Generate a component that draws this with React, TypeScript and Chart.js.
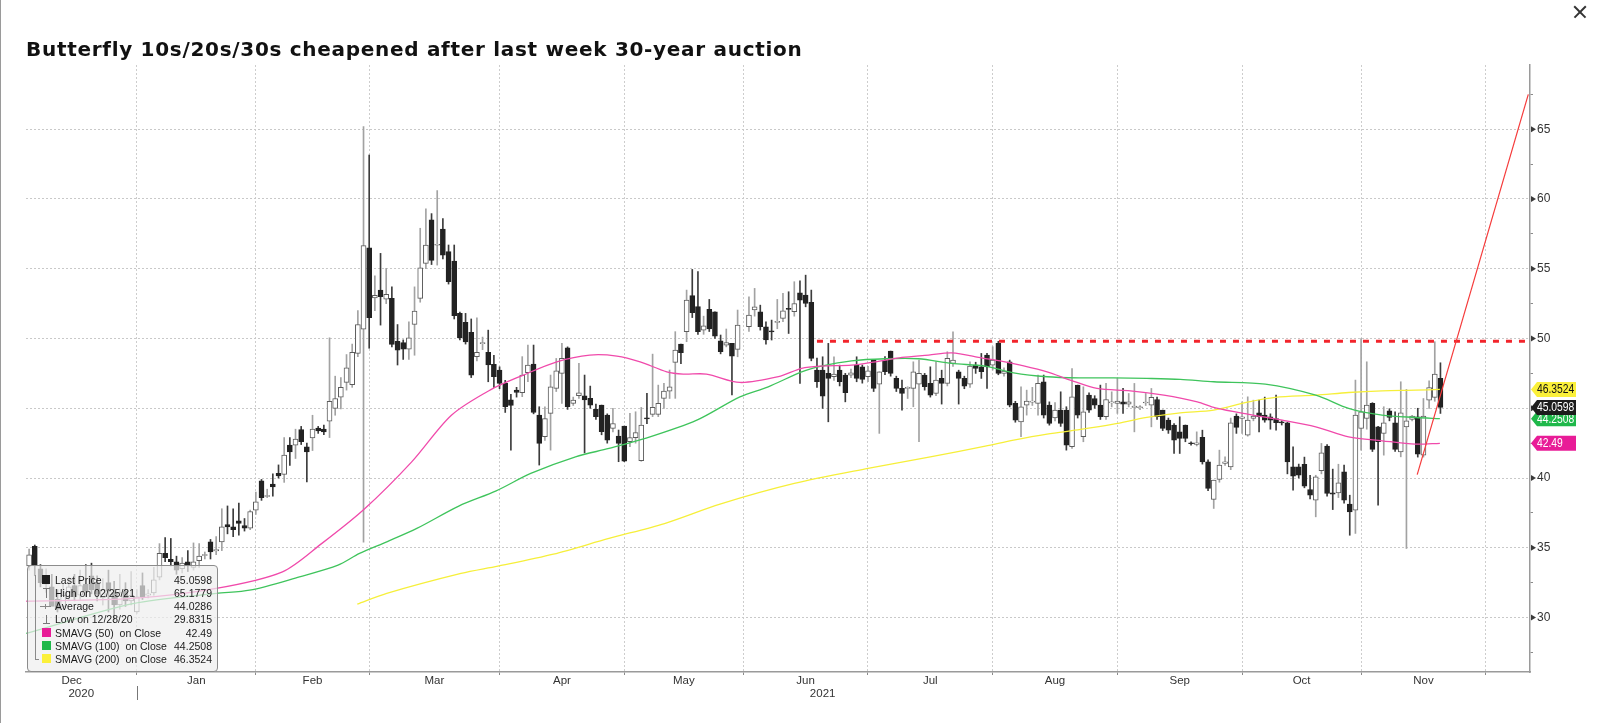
import React, { useEffect, useRef } from "react";
import { Chart, registerables } from "chart.js";

Chart.register(...registerables);

// ---------- DATA ----------
// Candles: [open, high, low, close]; x = weekday index counted from 1 Dec 2020 (null = no trading)
type Candle = [number, number, number, number] | null;

const decCandles: Candle[] = [
  [33.7, 34.9, 33.4, 34.5], [35.1, 35.2, 33.0, 33.7], [33.5, 33.8, 32.2, 32.5], [32.4, 33.5, 31.8, 33.0],
  [32.2, 33.1, 30.9, 30.8], [31.3, 32.0, 30.4, 30.6], [30.8, 32.4, 30.6, 31.6], [31.5, 32.9, 31.2, 32.2],
  [32.3, 33.1, 31.2, 31.5], [31.6, 33.4, 31.3, 32.3], [32.4, 33.8, 31.5, 31.9], [33.0, 33.9, 31.7, 32.0],
  [32.5, 33.0, 31.2, 31.7], [31.4, 32.8, 30.9, 32.0], [32.5, 33.4, 30.4, 31.9], [31.8, 32.6, 29.83, 30.9],
  [30.9, 33.1, 30.6, 31.8], [31.9, 32.5, 30.8, 31.2], [31.2, 33.3, 30.9, 31.6],
];
const janCandles: Candle[] = [
  [30.41, 32.0, 30.3, 31.48], [32.3, 33.2, 31.3, 31.5], [31.6, 32.0, 31.4, 31.7], [31.77, 33.6, 31.6, 32.7],
  [32.9, 35.3, 32.7, 34.6], [34.6, 35.74, 34.0, 34.3], [34.17, 35.67, 33.7, 34.0], [34.0, 34.4, 33.1, 33.4],
  [33.5, 34.3, 33.2, 33.9], [34.0, 34.8, 33.3, 33.7], [33.6, 35.35, 33.4, 34.0], [34.07, 35.3, 33.6, 34.4],
  [34.45, 34.7, 34.2, 34.49], [35.43, 35.6, 34.2, 34.71], [34.78, 35.8, 34.5, 34.88], [35.43, 37.8, 34.8, 36.5],
  [36.67, 38.0, 36.0, 36.5], [36.5, 37.8, 35.8, 36.3], [36.93, 38.2, 35.9, 36.74], [36.6, 37.1, 36.2, 36.4],
  [36.4, 37.7, 36.3, 37.6],
];
const febCandles: Candle[] = [
  [37.7, 39.0, 37.4, 38.3], [39.8, 39.9, 38.4, 38.6], [38.68, 39.2, 38.6, 38.72], [39.56, 40.3, 38.7, 39.37],
  [40.33, 40.94, 40.0, 40.16], [40.26, 42.9, 39.69, 41.64], [42.36, 42.9, 40.9, 41.88], [42.36, 43.5, 41.4, 42.79],
  [43.48, 43.7, 42.4, 42.6], [42.24, 42.5, 39.73, 41.88], [42.88, 44.5, 41.97, 43.5], [43.58, 43.7, 43.2, 43.38],
  [43.5, 43.8, 43.1, 43.3], [44.08, 50.05, 42.9, 45.5], [44.99, 47.3, 44.5, 45.7], [45.8, 47.2, 44.95, 46.5],
  [46.85, 48.85, 46.3, 47.9], [46.7, 49.6, 46.5, 49.0], [48.93, 52.0, 48.7, 51.0], [50.67, 65.18, 35.4, 56.65],
];
const marCandles: Candle[] = [
  [56.5, 63.15, 49.3, 51.5], [52.9, 54.5, 52.0, 53.1], [53.47, 56.1, 50.96, 52.99], [52.82, 55.03, 52.5, 53.16],
  [52.87, 53.7, 49.4, 49.58], [49.8, 51.0, 48.1, 49.17], [49.7, 49.9, 48.5, 49.24], [49.24, 51.2, 48.5, 50.05],
  [51.0, 53.7, 48.8, 51.96], [52.87, 57.9, 52.6, 55.07], [55.38, 59.3, 55.0, 56.7], [58.5, 58.95, 55.3, 55.6],
  [56.68, 60.6, 55.26, 56.72], [57.84, 58.6, 55.7, 55.98], [56.22, 56.7, 53.9, 54.07], [55.55, 56.7, 51.4, 51.63],
  [51.8, 51.9, 49.9, 50.05], [51.15, 51.8, 49.6, 49.76], [50.44, 51.4, 47.2, 47.38], [48.7, 51.48, 48.4, 49.0],
  [49.63, 50.1, 49.2, 49.67], [49.0, 50.6, 46.9, 48.1], [48.14, 48.8, 46.5, 47.26],
];
const aprCandles: Candle[] = [
  [47.74, 47.97, 46.4, 46.78], [46.78, 47.0, 44.7, 45.11], [45.6, 46.0, 42.0, 45.2], [46.3, 46.5, 45.8, 46.14],
  [46.11, 48.7, 45.83, 47.38], [47.55, 49.53, 46.9, 48.1], [48.17, 49.53, 44.6, 44.7], [44.51, 45.11, 40.93, 42.48],
  [42.96, 45.11, 42.7, 44.27], [44.63, 47.38, 42.0, 46.54], [46.42, 48.57, 46.2, 47.69], [47.5, 49.65, 45.35, 48.57],
  [49.34, 49.4, 44.92, 45.11], [45.35, 45.8, 45.2, 45.59], [45.9, 48.22, 45.7, 46.11], [45.9, 47.38, 41.8, 45.59],
  [45.71, 46.59, 45.0, 45.23], [44.92, 45.3, 44.2, 44.39], [45.23, 45.23, 43.1, 43.32], [44.51, 44.6, 42.5, 42.72],
  [43.56, 44.99, 43.3, 43.91], [43.01, 43.44, 41.17, 42.48],
];
const mayCandles: Candle[] = [
  [43.72, 43.72, 41.17, 41.21], [42.6, 44.63, 42.24, 42.9], [42.89, 44.75, 42.5, 43.25], [41.24, 45.06, 41.2, 43.79],
  [44.32, 46.07, 43.9, 44.23], [44.56, 48.88, 44.4, 45.06], [44.56, 46.66, 44.4, 45.35], [45.71, 46.78, 44.99, 46.23],
  [46.23, 47.74, 45.7, 46.54], [48.29, 50.49, 45.71, 49.17], [49.6, 49.6, 48.2, 48.98], [50.49, 53.47, 49.77, 52.76],
  [53.07, 54.95, 51.5, 51.85], [52.28, 54.79, 50.3, 50.49], [50.6, 51.6, 50.3, 50.9], [52.09, 52.8, 50.5, 50.68],
  [51.92, 51.92, 50.0, 50.17], [49.84, 50.25, 48.9, 49.05], [49.53, 50.68, 49.4, 49.7], [49.65, 49.65, 45.95, 48.74],
  [49.22, 52.04, 48.69, 50.96],
];
const junCandles: Candle[] = [
  null, [50.84, 52.99, 50.5, 51.68], [52.04, 53.59, 51.6, 52.27], [51.92, 52.39, 50.6, 50.84],
  [50.84, 51.2, 49.6, 49.89], [50.53, 51.32, 49.89, 50.48], [51.15, 52.8, 50.7, 51.2], [51.44, 53.23, 51.2, 51.99],
  [52.16, 53.35, 50.36, 52.08], [51.92, 54.07, 51.6, 52.51], [53.28, 54.14, 46.78, 52.75], [53.11, 54.54, 52.27, 52.51],
  [52.59, 53.47, 48.4, 48.57], [47.73, 48.6, 46.5, 46.9], [47.73, 48.69, 44.99, 45.87], [47.5, 49.65, 44.03, 47.14],
  [47.26, 48.69, 47.0, 47.45], [47.73, 48.09, 46.6, 46.9], [47.38, 47.5, 45.46, 46.11], [47.38, 47.8, 47.2, 47.54],
  [48.09, 48.69, 46.9, 47.14], [47.97, 48.1, 46.8, 47.07],
];
const julCandles: Candle[] = [
  [47.26, 48.0, 46.9, 47.69], [48.45, 48.45, 46.2, 46.42], [46.73, 47.62, 43.2, 47.62], [48.45, 48.7, 47.4, 47.62],
  [49.1, 49.1, 47.3, 47.5], [47.14, 47.3, 46.2, 46.42], [46.42, 47.02, 44.87, 46.06], [46.42, 46.54, 45.7, 46.45],
  [46.42, 48.33, 45.11, 47.62], [46.73, 48.45, 42.6, 47.5], [47.38, 47.5, 46.3, 46.54], [46.78, 47.97, 45.8, 45.94],
  [46.06, 48.33, 45.9, 47.02], [47.14, 47.73, 45.3, 46.78], [46.78, 49.05, 46.6, 48.57], [48.21, 50.48, 48.0, 48.45],
  [47.62, 47.73, 45.3, 47.14], [47.14, 47.3, 46.4, 46.59], [46.73, 48.33, 46.5, 48.02], [48.09, 48.3, 47.5, 47.85],
  [47.97, 48.93, 47.14, 47.62], [48.81, 48.93, 46.42, 47.97],
];
const augCandles: Candle[] = [
  [48.09, 49.41, 47.74, 48.45], [49.65, 49.8, 47.4, 47.5], [47.5, 47.9, 47.3, 47.66], [48.33, 48.45, 45.1, 45.23],
  [45.35, 45.5, 44.0, 44.15], [44.03, 46.54, 42.96, 45.11], [45.23, 46.3, 44.51, 45.51], [45.44, 46.5, 45.2, 45.48],
  [45.35, 47.38, 44.51, 46.78], [46.9, 47.38, 44.3, 44.51], [45.23, 45.46, 43.79, 43.91], [44.3, 45.4, 44.1, 44.87],
  [44.87, 46.18, 43.7, 43.91], [44.87, 45.11, 42.0, 42.36], [42.24, 47.85, 42.12, 45.82], [46.66, 46.66, 44.3, 44.51],
  [42.96, 46.54, 42.6, 44.75], [45.94, 46.1, 44.7, 44.87], [45.7, 45.9, 45.0, 45.23], [45.23, 46.66, 44.2, 44.39],
  [44.39, 46.78, 44.2, 45.63], [45.39, 46.18, 45.1, 45.42],
];
const sepCandles: Candle[] = [
  [45.35, 47.14, 44.63, 45.51], [45.46, 46.42, 44.63, 45.3], [45.3, 46.06, 45.1, 45.46], [45.06, 46.78, 43.31, 45.15],
  [45.04, 45.2, 44.9, 45.06], [45.38, 46.06, 45.2, 45.4], [45.23, 46.42, 43.67, 45.78], [45.63, 45.8, 44.2, 44.39],
  [44.87, 44.87, 43.4, 43.55], [44.15, 44.3, 43.2, 43.43], [43.79, 43.91, 41.76, 42.72], [43.31, 44.39, 41.76, 42.84],
  [43.79, 43.8, 42.6, 42.84], [42.48, 42.6, 42.36, 42.46], [42.41, 43.31, 42.3, 42.53], [42.91, 43.43, 41.0, 41.16],
  [41.16, 41.3, 39.1, 39.25], [38.46, 39.85, 37.82, 39.85], [39.9, 42.0, 39.7, 40.92], [41.04, 41.52, 40.9, 41.16],
  [40.8, 44.3, 40.6, 43.96], [44.44, 44.6, 43.2, 43.63],
];
const octCandles: Candle[] = [
  [44.27, 45.46, 43.19, 44.39], [43.08, 45.82, 43.0, 44.15], [44.27, 45.58, 44.1, 44.44], [44.68, 45.58, 43.3, 44.39],
  [44.51, 45.8, 44.0, 44.15], [44.39, 44.6, 43.5, 44.15], [44.27, 45.94, 43.43, 43.96], [43.97, 44.1, 43.8, 43.95],
  [43.96, 44.0, 40.3, 41.16], [40.8, 42.24, 39.13, 40.14], [40.8, 41.0, 40.0, 40.21], [40.99, 41.5, 39.3, 39.42],
  [39.18, 40.2, 38.5, 38.77], [38.42, 40.2, 37.22, 40.09], [40.52, 42.48, 40.3, 41.81], [42.29, 42.4, 38.7, 38.89],
  [38.94, 40.64, 37.74, 38.85], [38.94, 40.99, 38.6, 39.66], [40.45, 40.92, 38.2, 38.42], [38.13, 38.77, 35.9, 37.58],
  [37.7, 47.02, 36.03, 44.51],
];
const novCandles: Candle[] = [
  [43.55, 50.0, 42.0, 44.75], [44.27, 48.33, 43.5, 45.23], [45.35, 45.4, 41.9, 42.05], [43.67, 43.7, 38.06, 42.6],
  [43.19, 45.11, 41.64, 43.96], [44.82, 44.97, 44.1, 44.34], [43.96, 44.75, 41.9, 42.05], [41.88, 46.9, 41.52, 44.68],
  [43.67, 46.35, 34.95, 44.1], [44.2, 44.5, 44.1, 44.44], [44.39, 45.0, 41.5, 41.71], [41.64, 45.7, 41.5, 44.44],
  [45.58, 46.97, 44.99, 46.49], [45.78, 49.77, 45.5, 47.45], [47.14, 48.26, 44.63, 45.06],
];
const candleMonths: { first: number; rows: Candle[] }[] = [
  { first: 4, rows: decCandles }, { first: 23, rows: janCandles }, { first: 44, rows: febCandles },
  { first: 64, rows: marCandles }, { first: 87, rows: aprCandles }, { first: 109, rows: mayCandles },
  { first: 130, rows: junCandles }, { first: 152, rows: julCandles }, { first: 174, rows: augCandles },
  { first: 196, rows: sepCandles }, { first: 218, rows: octCandles }, { first: 239, rows: novCandles },
];

// Moving averages (weekday index, value)
const sma50X = [3.5, 22.3, 37, 48.7, 55.6, 63.2, 71.5, 78.5, 85.3, 91.2, 97.1, 102.9, 107.7, 111.8, 116.5, 119.4, 123.5, 129.4, 136.2, 140.3, 143.8, 149.1, 153.3, 158, 162.7, 166.8, 172.2, 175.3, 178.9, 183.6, 187.7, 192.4, 198.3, 204.2, 210.1, 213.3, 219.2, 225.1, 231, 236.8, 242.7, 248.6, 252.9];
const sma50Y = [31.17, 31.37, 32.09, 33.28, 35.3, 37.8, 41.16, 44.5, 46.3, 47.38, 48.33, 48.81, 48.74, 48.33, 47.61, 47.45, 47.45, 46.85, 47.26, 47.86, 48.02, 48.09, 48.33, 48.64, 48.81, 48.97, 48.6, 48.4, 48.09, 47.61, 47.02, 46.42, 46.25, 45.94, 45.46, 45.03, 44.56, 44.15, 43.67, 42.95, 42.67, 42.43, 42.49];
const sma100X = [3.5, 22.3, 37, 42.9, 51.7, 58.5, 62.3, 67.1, 72.4, 79.8, 86.4, 92.5, 100.4, 106.3, 112.7, 121.8, 129.4, 134.4, 140.3, 143.8, 149.1, 155, 160.9, 166.8, 172.7, 177.7, 183.6, 189.5, 195.3, 201.2, 207.1, 213, 222.1, 231, 236.8, 242.7, 248.6, 252.9];
const sma100Y = [28.86, 31.0, 31.73, 31.96, 32.92, 33.76, 34.6, 35.43, 36.39, 37.99, 39.08, 40.33, 41.52, 42.12, 42.84, 44.15, 45.82, 46.54, 47.61, 48.02, 48.4, 48.55, 48.55, 48.21, 48.02, 47.54, 47.26, 47.18, 47.18, 47.14, 47.07, 46.9, 46.73, 45.94, 44.99, 44.51, 44.34, 44.2508];
const sma200X = [61.9, 67.1, 80.2, 86.7, 96.5, 106.3, 116.1, 125.9, 139, 152, 163, 172.7, 177.7, 183.6, 189.5, 195.3, 201.2, 207.1, 213, 219.2, 223.9, 231, 236.8, 242.7, 248.6, 252.9];
const sma200Y = [30.96, 31.73, 33.16, 33.68, 34.54, 35.67, 36.74, 38.13, 39.61, 40.69, 41.52, 42.29, 42.72, 43.15, 43.48, 43.86, 44.34, 44.67, 44.87, 45.46, 45.78, 45.94, 46.13, 46.25, 46.3, 46.3524];

// Annotations
const resistanceLevel = 49.8;
const resistanceFrom = 143;
const trendX = [248.9, 268.5];
const trendY = [40.24, 67.5];

// Axes
const X_MIN = 3.45;
const X_MAX = 268.8;
const monthStarts = [0, 23, 44, 64, 87, 109, 130, 152, 174, 196, 218, 239, 261];
const monthLabels = ["Dec", "Jan", "Feb", "Mar", "Apr", "May", "Jun", "Jul", "Aug", "Sep", "Oct", "Nov"];
const yearBreak = 23;
const yearLabels = ["2020", "2021"];
const yearLabelAt = [13.2, 144];
const Y_MIN = 26.1;
const Y_MAX = 69.6;
const yTicks = [27.5, 30, 32.5, 35, 37.5, 40, 42.5, 45, 47.5, 50, 52.5, 55, 57.5, 60, 62.5, 65, 67.5];

// Last-value tags (drawn in this order)
const tagValues = [46.3524, 44.2508, 42.49, 45.0598];
const tagTexts = ["46.3524", "44.2508", "42.49", "45.0598"];
const tagFills = ["#fbf03a", "#1fb84a", "#e81c97", "#1c1c1c"];
const tagInk = ["#111111", "#ffffff", "#ffffff", "#ffffff"];

// Legend
const legendLabels = ["Last Price", "High on 02/25/21", "Average", "Low on 12/28/20", "SMAVG (50)  on Close", "SMAVG (100)  on Close", "SMAVG (200)  on Close"];
const legendValues = ["45.0598", "65.1779", "44.0286", "29.8315", "42.49", "44.2508", "46.3524"];
const legendIcons = ["last", "high", "avg", "low", "#e81c97", "#1fb84a", "#fbf03a"];

const TITLE = "Butterfly 10s/20s/30s cheapened after last week 30-year auction";

const PINK = "#f04aab";
const GREEN = "#3fc45c";
const YELLOW = "#f6ef3a";
const RED = "#f2242b";
const SANS = "'Liberation Sans', Arial, sans-serif";

const monthMids = monthLabels.map((_, k) => (monthStarts[k] + monthStarts[k + 1]) / 2);
const isBoundary = (v: number) => monthStarts.indexOf(v) >= 0;

function pts(xs: number[], ys: number[]) {
  return xs.map((x, k) => ({ x, y: ys[k] }));
}

const overlayPlugin = {
  id: "overlay",
  afterDraw(chart: any) {
    const { ctx, chartArea, scales } = chart;
    const ys = scales.y;
    const xs = scales.x;
    const r = chartArea.right;
    ctx.save();
    // arrow markers at labelled ticks
    ctx.fillStyle = "#3a3a3a";
    yTicks.filter((v) => v % 5 === 0).forEach((v) => {
      const py = ys.getPixelForValue(v);
      ctx.beginPath();
      ctx.moveTo(r + 1, py - 3);
      ctx.lineTo(r + 6, py);
      ctx.lineTo(r + 1, py + 3);
      ctx.closePath();
      ctx.fill();
    });
    // year separator + year labels
    const sx = Math.round(xs.getPixelForValue(yearBreak)) + 0.5;
    ctx.strokeStyle = "#777";
    ctx.lineWidth = 1;
    ctx.beginPath();
    ctx.moveTo(sx, chartArea.bottom + 14);
    ctx.lineTo(sx, chartArea.bottom + 28);
    ctx.stroke();
    ctx.font = `11.5px ${SANS}`;
    ctx.fillStyle = "#333";
    ctx.textAlign = "center";
    ctx.textBaseline = "middle";
    yearLabels.forEach((t, k) => ctx.fillText(t, xs.getPixelForValue(yearLabelAt[k]), chartArea.bottom + 21.5));
    // value tags
    ctx.textAlign = "left";
    ctx.font = `12px ${SANS}`;
    tagValues.forEach((v, k) => {
      const py = ys.getPixelForValue(v);
      const h = 7.5;
      ctx.beginPath();
      ctx.moveTo(r + 1, py);
      ctx.lineTo(r + 7, py - h);
      ctx.lineTo(r + 46, py - h);
      ctx.lineTo(r + 46, py + h);
      ctx.lineTo(r + 7, py + h);
      ctx.closePath();
      ctx.fillStyle = tagFills[k];
      ctx.fill();
      ctx.fillStyle = tagInk[k];
      ctx.save();
      ctx.translate(r + 7, py + 0.5);
      ctx.scale(0.86, 1);
      ctx.fillText(tagTexts[k], 0, 0);
      ctx.restore();
    });
    ctx.restore();
  },
};

function LegendIcon({ kind }: { kind: string }) {
  const base: React.CSSProperties = { position: "absolute", left: 14, top: 2 };
  if (kind === "last") return <div style={{ ...base, width: 8, height: 9, background: "#1e1e1e" }} />;
  if (kind === "high")
    return (
      <div style={{ ...base, width: 9, height: 10 }}>
        <div style={{ position: "absolute", left: 4, top: 0, width: 1, height: 10, background: "#777" }} />
        <div style={{ position: "absolute", left: 1, top: 0, width: 7, height: 1, background: "#777" }} />
      </div>
    );
  if (kind === "avg")
    return (
      <div style={{ ...base, width: 11, height: 10, left: 12 }}>
        <div style={{ position: "absolute", left: 0, top: 5, width: 11, height: 1, background: "#888" }} />
        <div style={{ position: "absolute", left: 5, top: 3, width: 1, height: 5, background: "#888" }} />
      </div>
    );
  if (kind === "low")
    return (
      <div style={{ ...base, width: 9, height: 10 }}>
        <div style={{ position: "absolute", left: 4, top: 1, width: 1, height: 9, background: "#777" }} />
        <div style={{ position: "absolute", left: 1, top: 9, width: 7, height: 1, background: "#777" }} />
      </div>
    );
  return <div style={{ ...base, width: 9, height: 9, background: kind }} />;
}

export default function App() {
  const canvasRef = useRef<HTMLCanvasElement | null>(null);

  useEffect(() => {
    const canvas = canvasRef.current;
    if (!canvas) return;
    const wickData: any[] = [];
    const bodyData: any[] = [];
    const wickColors: string[] = [];
    const bodyFill: string[] = [];
    const bodyBorder: string[] = [];
    candleMonths.forEach((m) => {
      m.rows.forEach((c, k) => {
        if (!c) return;
        const x = m.first + k;
        const [o, h, l, cl] = c;
        const up = cl >= o;
        wickData.push({ x, y: [l, h] });
        bodyData.push({ x, y: [o, cl] });
        wickColors.push(up ? "#a2a2a2" : "#3c3c3c");
        bodyFill.push(up ? "#ffffff" : "#222222");
        bodyBorder.push(up ? "#5c5c5c" : "#222222");
      });
    });

    const xTickValues = [...monthStarts.filter((v) => v >= X_MIN && v <= X_MAX), ...monthMids].sort((a, b) => a - b);

    const chart = new Chart(canvas, {
      type: "bar",
      data: {
        datasets: [
          { type: "bar", data: wickData, backgroundColor: wickColors, borderWidth: 0, barThickness: 1, grouped: false, order: 10 } as any,
          {
            type: "bar", data: bodyData, backgroundColor: bodyFill, borderColor: bodyBorder, borderWidth: 1,
            borderSkipped: false, barThickness: 5, grouped: false, minBarLength: 1, order: 9,
          } as any,
          { type: "line", data: pts(sma200X, sma200Y), borderColor: YELLOW, borderWidth: 1.3, pointRadius: 0, tension: 0.3, order: 5 } as any,
          { type: "line", data: pts(sma100X, sma100Y), borderColor: GREEN, borderWidth: 1.3, pointRadius: 0, tension: 0.3, order: 4 } as any,
          { type: "line", data: pts(sma50X, sma50Y), borderColor: PINK, borderWidth: 1.3, pointRadius: 0, tension: 0.3, order: 3 } as any,
          {
            type: "line", data: [{ x: resistanceFrom, y: resistanceLevel }, { x: X_MAX, y: resistanceLevel }],
            borderColor: RED, borderWidth: 3, borderDash: [6, 7], pointRadius: 0, order: 1,
          } as any,
          { type: "line", data: pts(trendX, trendY), borderColor: "#f53a3a", borderWidth: 1.2, pointRadius: 0, order: 0 } as any,
        ],
      },
      options: {
        responsive: false,
        devicePixelRatio: 1,
        animation: false,
        events: [],
        layout: { padding: { left: 26, top: 65, right: 0, bottom: 0 } },
        plugins: { legend: { display: false }, title: { display: false }, tooltip: { enabled: false } },
        scales: {
          x: {
            type: "linear",
            min: X_MIN,
            max: X_MAX,
            offset: false,
            afterBuildTicks: (scale: any) => {
              scale.ticks = xTickValues.map((value) => ({ value }));
            },
            afterFit: (scale: any) => {
              scale.height = 51;
            },
            grid: {
              offset: false,
              color: (ctx: any) => (ctx.tick && isBoundary(ctx.tick.value) ? "#cdcdcd" : "rgba(0,0,0,0)"),
              tickColor: (ctx: any) => (ctx.tick && isBoundary(ctx.tick.value) ? "#8a8a8a" : "rgba(0,0,0,0)"),
              tickLength: 3,
              lineWidth: 1,
            },
            border: { display: true, color: "#9a9a9a", width: 1.5, dash: [2, 2] },
            ticks: {
              autoSkip: false,
              maxRotation: 0,
              padding: 0,
              color: "#333",
              font: { family: SANS, size: 11.5, lineHeight: 1 },
              callback: (v: any) => {
                const k = monthMids.indexOf(Number(v));
                return k >= 0 ? monthLabels[k] : "";
              },
            },
          },
          y: {
            type: "linear",
            position: "right",
            min: Y_MIN,
            max: Y_MAX,
            afterBuildTicks: (scale: any) => {
              scale.ticks = yTicks.map((value) => ({ value }));
            },
            afterFit: (scale: any) => {
              scale.width = 70;
            },
            grid: {
              color: (ctx: any) => (ctx.tick && ctx.tick.value % 5 === 0 ? "#c9c9c9" : "rgba(0,0,0,0)"),
              tickColor: (ctx: any) => (ctx.tick && ctx.tick.value % 5 !== 0 ? "#8a8a8a" : "rgba(0,0,0,0)"),
              tickLength: 3,
              lineWidth: 1,
            },
            border: { display: true, color: "#9a9a9a", width: 1.5, dash: [2, 2] },
            ticks: {
              padding: 4,
              color: "#333",
              font: { family: SANS, size: 12 },
              callback: (v: any) => (Number(v) % 5 === 0 ? String(v) : ""),
            },
          },
        },
      },
      plugins: [overlayPlugin],
    } as any);

    return () => chart.destroy();
  }, []);

  return (
    <div style={{ position: "fixed", left: 0, top: 0, width: 1600, height: 723, background: "#ffffff", overflow: "hidden" }}>
      <canvas ref={canvasRef} width={1600} height={723} style={{ position: "absolute", left: 0, top: 0, display: "block" }} />
      <div style={{ position: "absolute", left: 0, top: 0, width: 1, height: 723, background: "#9a9a9a" }} />
      <div
        style={{
          position: "absolute", left: 26, top: 37, height: 24, lineHeight: "24px", whiteSpace: "nowrap",
          fontFamily: "'DejaVu Sans', Verdana, sans-serif", fontWeight: "bold", fontSize: 20, letterSpacing: 0.7, color: "#111",
        }}
      >
        {TITLE}
      </div>
      <div style={{ position: "absolute", left: 1572, top: 4, width: 16, height: 16 }}>
        <div style={{ position: "absolute", left: 0, top: 7, width: 16, height: 1.6, background: "#333", transform: "rotate(45deg)" }} />
        <div style={{ position: "absolute", left: 0, top: 7, width: 16, height: 1.6, background: "#333", transform: "rotate(-45deg)" }} />
      </div>
      <div
        style={{
          position: "absolute", left: 27, top: 565, width: 191, height: 107, boxSizing: "border-box",
          background: "rgba(238,238,238,0.7)", border: "1px solid #8c8c8c", borderRadius: 4,
          fontFamily: SANS, fontSize: 10.5, color: "#1a1a1a",
        }}
      >
        <div style={{ position: "absolute", left: 7, top: 9, width: 1, height: 85, background: "#8a8a8a" }} />
        <div style={{ position: "absolute", left: 7, top: 93, width: 4, height: 1, background: "#8a8a8a" }} />
        {legendLabels.map((label, k) => (
          <div key={k} style={{ position: "absolute", left: 0, right: 0, top: 6.5 + k * 13.3, height: 14, lineHeight: "14px" }}>
            <LegendIcon kind={legendIcons[k]} />
            <span style={{ position: "absolute", left: 27, whiteSpace: "pre" }}>{label}</span>
            <span style={{ position: "absolute", right: 5 }}>{legendValues[k]}</span>
          </div>
        ))}
      </div>
    </div>
  );
}
